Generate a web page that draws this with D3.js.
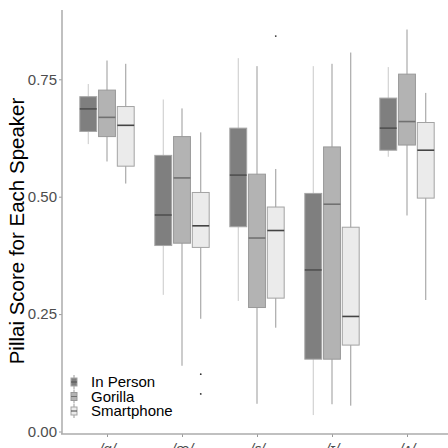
<!DOCTYPE html>
<html>
<head>
<meta charset="utf-8">
<script src="https://cdn.jsdelivr.net/npm/d3@7"></script>
<style>
  body { margin: 0; background: #fff; }
  svg { display: block; font-family: "Liberation Sans", Arial, sans-serif; }
</style>
</head>
<body>
<svg width="448" height="448"></svg>
<script>
// Vocales y grupos
const vowels = ["/ɑ/", "/æ/", "/ɛ/", "/ɪ/", "/ʌ/"];
const groups = ["In Person", "Gorilla", "Smartphone"];

// [min, q1, mediana, q3, max] por vocal
const inPerson = [
  [0.612, 0.639, 0.687, 0.713, 0.740],
  [0.291, 0.396, 0.461, 0.588, 0.707],
  [0.278, 0.436, 0.546, 0.646, 0.795],
  [0.035, 0.154, 0.344, 0.507, 0.778],
  [0.585, 0.599, 0.646, 0.710, 0.776]
];
const gorilla = [
  [0.575, 0.628, 0.669, 0.727, 0.790],
  [0.140, 0.401, 0.540, 0.628, 0.688],
  [0.059, 0.264, 0.412, 0.548, 0.778],
  [0.058, 0.154, 0.484, 0.606, 0.783],
  [0.460, 0.610, 0.660, 0.761, 0.856]
];
const smartphone = [
  [0.528, 0.565, 0.652, 0.692, 0.783],
  [0.240, 0.392, 0.438, 0.509, 0.637],
  [0.221, 0.284, 0.428, 0.478, 0.559],
  [0.055, 0.184, 0.245, 0.435, 0.807],
  [0.280, 0.497, 0.599, 0.658, 0.721]
];

// Valores atípicos [vocal, grupo, valor]
const outliers = [
  ["/æ/", "Smartphone", 0.122],
  ["/æ/", "Smartphone", 0.080],
  ["/ɛ/", "Smartphone", 0.842]
];

const yTicks = [0, 0.25, 0.5, 0.75];

const fills = { "In Person": "#7f7f7f", "Gorilla": "#b3b3b3", "Smartphone": "#ebebeb" };
const strokes = { "In Person": "#a6a6a6", "Gorilla": "#999999", "Smartphone": "#a3a3a3" };
const whiskerColors = { "In Person": "#c9c9c9", "Gorilla": "#999999", "Smartphone": "#999999" };
const medianColors = { "In Person": "#505050", "Gorilla": "#717171", "Smartphone": "#444444" };

const svg = d3.select("svg");

// Escalas
const x = d3.scalePoint().domain(vowels).range([62, 452]).padding(0.6);
const step = x.step();
const xSub = d3.scaleBand().domain(groups).range([-0.375 * step, 0.375 * step]).paddingInner(0).paddingOuter(0);
const boxW = xSub.bandwidth() * 0.9;

const y = d3.scaleLinear().domain([0, 0.75]).range([431.5, 79.3]);

// Datos en forma larga
const stats = [];
[inPerson, gorilla, smartphone].forEach((arr, gi) => {
  arr.forEach((s, vi) => {
    stats.push({ vowel: vowels[vi], group: groups[gi], min: s[0], q1: s[1], med: s[2], q3: s[3], max: s[4] });
  });
});

const cx = d => x(d.vowel) + xSub(d.group) + xSub.bandwidth() / 2;

// Ejes
const yAxis = svg.append("g")
  .attr("transform", "translate(62,0)")
  .call(d3.axisLeft(y).tickValues(yTicks).tickFormat(d3.format(".2f")).tickSize(3).tickPadding(2));
yAxis.select(".domain").remove();
yAxis.selectAll(".tick line").attr("stroke", "#9a9a9a");
yAxis.selectAll(".tick text")
  .attr("fill", "#4d4d4d")
  .style("font-size", "15px")
  .style("font-family", "'Liberation Sans', Arial, sans-serif");

svg.append("line")
  .attr("x1", 62).attr("x2", 62)
  .attr("y1", 10).attr("y2", 434)
  .attr("stroke", "#ababab").attr("stroke-width", 1.5);

const xAxis = svg.append("g")
  .attr("transform", "translate(0,434)")
  .call(d3.axisBottom(x).tickSize(3).tickPadding(6));
xAxis.select(".domain").remove();
xAxis.selectAll(".tick line").attr("stroke", "#9a9a9a");
xAxis.selectAll(".tick text")
  .attr("fill", "#4d4d4d")
  .attr("dy", "0.71em")
  .style("font-size", "15px")
  .style("font-style", "italic")
  .style("font-family", "'Liberation Sans', Arial, sans-serif");

svg.append("line")
  .attr("x1", 61).attr("x2", 448)
  .attr("y1", 434).attr("y2", 434)
  .attr("stroke", "#ababab").attr("stroke-width", 1.5);

// Bigotes
svg.selectAll(".whisker")
  .data(stats)
  .enter()
  .append("line")
  .attr("class", "whisker")
  .attr("x1", cx).attr("x2", cx)
  .attr("y1", d => y(d.min)).attr("y2", d => y(d.max))
  .attr("stroke", d => whiskerColors[d.group])
  .attr("stroke-width", 1);

// Cajas
svg.selectAll(".box")
  .data(stats)
  .enter()
  .append("rect")
  .attr("class", "box")
  .attr("x", d => cx(d) - boxW / 2)
  .attr("width", boxW)
  .attr("y", d => y(d.q3))
  .attr("height", d => y(d.q1) - y(d.q3))
  .attr("fill", d => fills[d.group])
  .attr("stroke", d => strokes[d.group])
  .attr("stroke-width", 1);

// Medianas
svg.selectAll(".median")
  .data(stats)
  .enter()
  .append("line")
  .attr("class", "median")
  .attr("x1", d => cx(d) - boxW / 2).attr("x2", d => cx(d) + boxW / 2)
  .attr("y1", d => y(d.med)).attr("y2", d => y(d.med))
  .attr("stroke", d => medianColors[d.group])
  .attr("stroke-width", 1.6);

// Atípicos
svg.selectAll(".outlier")
  .data(outliers)
  .enter()
  .append("circle")
  .attr("class", "outlier")
  .attr("cx", d => x(d[0]) + xSub(d[1]) + xSub.bandwidth() / 2)
  .attr("cy", d => y(d[2]))
  .attr("r", 0.9)
  .attr("fill", "#333");

// Título del eje Y
svg.append("text")
  .attr("transform", "translate(24,231) rotate(-90)")
  .attr("text-anchor", "middle")
  .style("font-size", "20.5px")
  .style("fill", "#000")
  .text("Pillai Score for Each Speaker");

// Leyenda
const legend = svg.selectAll(".legend")
  .data(groups)
  .enter()
  .append("g")
  .attr("class", "legend")
  .attr("transform", (d, i) => `translate(74,${382 + i * 14.5})`);

legend.append("line")
  .attr("y1", -7).attr("y2", 7)
  .attr("stroke", d => whiskerColors[d] === "#c9c9c9" ? "#9a9a9a" : whiskerColors[d]);
legend.append("rect")
  .attr("x", -3).attr("y", -4)
  .attr("width", 6).attr("height", 8)
  .attr("fill", d => fills[d])
  .attr("stroke", d => strokes[d]);
legend.append("line")
  .attr("x1", -3).attr("x2", 3)
  .attr("stroke", d => medianColors[d]);
legend.append("text")
  .attr("x", 17)
  .attr("dy", "0.36em")
  .style("font-size", "15px")
  .style("fill", "#000")
  .text(d => d);
</script>
</body>
</html>
